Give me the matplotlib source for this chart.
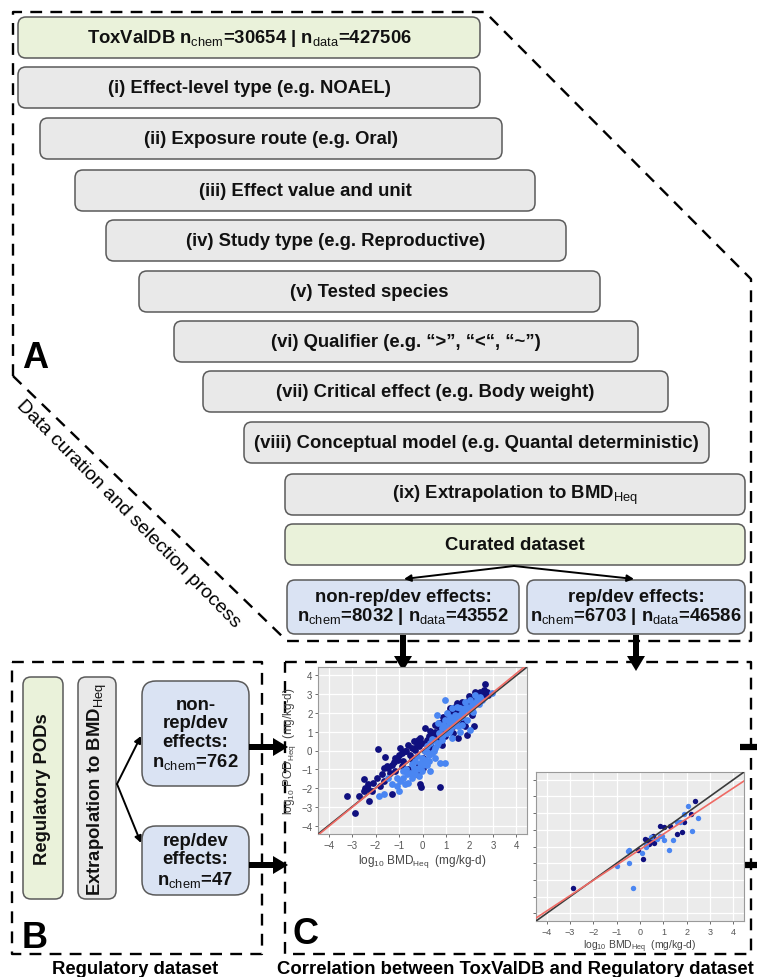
import numpy as np
import matplotlib
matplotlib.use("Agg")
import matplotlib.pyplot as plt
from matplotlib.patches import FancyBboxPatch, FancyArrow

plt.rcParams['font.family'] = ['Liberation Sans', 'DejaVu Sans']
plt.rcParams['mathtext.fontset'] = 'custom'
plt.rcParams['mathtext.rm'] = 'Liberation Sans'
plt.rcParams['mathtext.it'] = 'Liberation Sans:italic'
plt.rcParams['mathtext.bf'] = 'Liberation Sans:bold'

# ---- text of the flow chart ----
step_labels = [
    r'ToxValDB n$_{\mathrm{chem}}$=30654 | n$_{\mathrm{data}}$=427506',
    '(i) Effect-level type (e.g. NOAEL)',
    '(ii) Exposure route (e.g. Oral)',
    '(iii) Effect value and unit',
    '(iv) Study type (e.g. Reproductive)',
    '(v) Tested species',
    '(vi) Qualifier (e.g. \u201c>\u201d, \u201c<\u201c, \u201c~\u201d)',
    '(vii) Critical effect (e.g. Body weight)',
    '(viii) Conceptual model (e.g. Quantal deterministic)',
    r'(ix) Extrapolation to BMD$_{\mathrm{Heq}}$',
    'Curated dataset',
]
split_labels = [
    'non-rep/dev effects:\n' + r'n$_{\mathrm{chem}}$=8032 | n$_{\mathrm{data}}$=43552',
    'rep/dev effects:\n' + r'n$_{\mathrm{chem}}$=6703 | n$_{\mathrm{data}}$=46586',
]
reg_labels = ['Regulatory PODs', r'Extrapolation to BMD$_{\mathrm{Heq}}$']
reg_split_labels = ['non-\nrep/dev\neffects:\n' + r'n$_{\mathrm{chem}}$=762',
                    'rep/dev\neffects:\n' + r'n$_{\mathrm{chem}}$=47']
panel_titles = ['Regulatory dataset', 'Correlation between ToxValDB and Regulatory dataset']
side_text = 'Data curation and selection process'
ticks = [-4, -3, -2, -1, 0, 1, 2, 3, 4]

# ---- scatter 1: non-rep/dev, log10 BMDHeq vs log10 PODHeq ----
nonrep_dark = np.array([
    (-3.22, -2.41), (-2.89, -3.35), (-2.72, -2.41), (-2.27, -2.68), (-2.51, -1.54),
    (-2.44, -1.98), (-2.30, -1.80), (-2.09, -1.71), (-1.94, -1.45), (-1.90, 0.10),
    (-1.73, -1.27), (-1.66, -0.92), (-1.59, -0.36), (-1.52, -0.83), (-1.45, -0.92),
    (-1.30, -0.75), (-1.28, -2.33), (-1.16, -0.39), (-1.02, -0.22), (-0.95, 0.13),
    (-0.88, -0.13), (-0.81, -0.57), (-0.74, -0.04), (-0.60, 0.31), (-0.52, -0.22),
    (-0.45, 0.13), (-0.38, 0.49), (-0.31, 0.05), (-0.24, 0.31), (-0.17, 0.22),
    (-0.10, -1.80), (-0.10, 0.66), (-0.03, 0.40), (0.04, -0.92), (0.11, 1.19),
    (0.18, 0.57), (0.26, 0.75), (0.33, 0.40), (0.40, 0.92), (0.47, 0.66),
    (0.54, 1.01), (0.61, 0.84), (0.68, 1.28), (0.75, 1.10), (0.82, 1.54),
    (0.89, 1.01), (0.96, 0.75), (1.04, 1.36), (1.11, 1.72), (1.18, 1.45),
    (1.25, 1.89), (1.32, 1.28), (1.39, 2.07), (1.46, 1.72), (1.53, 0.66),
    (1.60, 2.15), (1.67, 1.89), (1.74, 2.33), (1.82, 1.28), (1.89, 2.42),
    (1.96, 2.24), (2.03, 2.59), (2.10, 2.68), (2.17, 2.42), (2.24, 2.86),
    (2.31, 2.59), (2.38, 2.95), (2.45, 2.77), (2.52, 3.03), (2.60, 2.86),
    (2.67, 3.56), (2.74, 3.12), (2.81, 2.95), (0.75, -1.94), (-0.60, -1.00),
    (-0.24, -1.27), (0.26, 0.14), (0.54, 1.36), (0.96, 1.19), (1.32, 1.89),
    (1.60, 1.45), (-0.45, -0.47), (-0.88, -0.83), (-1.16, -1.10), (-1.38, -1.18),
    (-2.16, -2.15), (-1.80, -1.89), (-1.66, -1.62), (-2.51, -2.15), (-2.33, -2.06),
    (0.11, -0.04), (0.40, 0.14), (0.68, 0.57), (0.89, 1.80), (1.18, 2.24),
    (1.46, 2.51), (1.67, 2.59), (1.96, 2.68), (2.24, 3.12), (2.45, 3.12),
    (1.32, 0.92), (1.74, 1.63), (2.10, 1.89), (1.89, 0.84), (1.11, 2.07),
    (0.82, 0.31), (-0.17, -0.75), (0.04, -0.39), (2.20, 1.30), (-0.08, -1.97),
    (-1.20, -0.60), (-0.70, 0.00), (-0.20, 0.55), (0.30, 1.05), (0.70, 1.45),
    (1.00, 1.60), (1.40, 2.30), (2.00, 2.90), (2.60, 3.25), (-1.05, -0.50),
])
nonrep_light = np.array([
    (-1.87, -2.41), (-1.66, -2.33), (-1.09, -1.89), (-0.95, -1.62), (-0.81, -1.45),
    (-0.67, -1.27), (-0.52, -1.18), (-0.38, -0.92), (-0.31, -0.57), (-0.17, -0.92),
    (-0.10, -0.66), (-0.03, -0.39), (0.11, -0.48), (0.18, -0.75), (0.26, -0.22),
    (0.33, -1.10), (0.40, -0.13), (0.47, -0.04), (0.54, 0.14), (0.61, 0.31),
    (0.68, 0.40), (0.75, -0.66), (0.82, 0.57), (0.89, 0.84), (0.96, -0.66),
    (1.04, 0.92), (1.11, 1.01), (1.18, 1.10), (1.25, 1.28), (1.32, 1.45),
    (1.39, 1.36), (1.46, 1.63), (1.53, 1.72), (1.60, 1.89), (1.67, 1.80),
    (1.74, 2.07), (1.82, 2.24), (1.89, 2.33), (1.96, 2.15), (2.03, 1.10),
    (2.10, 2.42), (2.17, 2.07), (2.24, 2.51), (2.31, 2.68), (2.38, 2.77),
    (2.45, 2.86), (2.52, 2.68), (0.96, 2.68), (0.61, 1.89), (0.68, 1.45),
    (0.82, 1.19), (0.18, 0.23), (0.04, -0.75), (-0.31, -1.10), (-0.45, -1.45),
    (-0.60, -1.71), (-0.74, -1.80), (-1.02, -2.15), (-0.24, -0.30), (0.33, 0.40),
    (0.47, 0.57), (1.11, 1.54), (1.60, 2.24), (1.82, 2.59), (2.03, 2.68),
    (2.24, 2.95), (2.95, 3.09), (-1.45, -1.45), (-1.30, -1.80), (-1.09, -1.45),
    (-0.85, -1.10), (0.96, 1.63), (1.18, 1.80), (1.39, 1.89), (1.67, 1.36),
    (1.89, 1.63), (0.54, -0.39), (0.26, -0.57), (-0.03, -1.10), (-0.17, -1.36),
    (0.75, 0.84), (0.89, 1.36), (1.04, 1.98), (1.25, 2.24), (1.46, 2.33),
    (1.25, 0.66), (1.60, 1.01), (-0.31, -1.27), (0.40, 0.60), (0.70, 0.95),
    (1.00, 1.25), (1.35, 1.65), (1.70, 2.00), (2.10, 2.25), (0.10, 0.00),
    (-0.45, -0.70), (-0.70, -1.00), (0.20, -0.10), (2.40, 2.50), (1.50, 1.30),
])
nonrep_fit = (1.02, 0.03)  # slope, intercept of red line

# ---- scatter 2: rep/dev ----
rep_dark = np.array([
    (-2.86, -2.46), (-0.07, -0.20), (0.13, -0.76), (0.20, 0.44), (0.28, 0.38),
    (0.34, 0.24), (0.38, 0.14), (0.56, 0.64), (0.59, 0.20), (0.87, 1.24),
    (1.04, 1.14), (1.30, 1.24), (1.58, 0.74), (1.79, 0.88), (1.89, 1.48),
    (2.20, 1.94), (2.34, 2.70), (0.45, 0.34),
])
rep_light = np.array([
    (-1.00, -1.16), (-0.51, -0.26), (-0.47, -0.20), (-0.49, -1.00), (-0.31, -2.46),
    (0.07, -0.40), (0.24, 0.08), (0.94, 0.64), (1.02, 0.40), (1.23, -0.20),
    (1.41, 0.40), (1.58, 1.44), (1.72, 1.44), (1.89, 1.94), (2.07, 2.44),
    (2.24, 0.94), (2.47, 1.70), (0.87, 0.64), (0.73, 0.44), (0.48, 0.54),
    (0.24, 0.00),
])
rep_fit = (0.92, -0.18)

fig = plt.figure(figsize=(7.57, 9.78), dpi=100)
bg = fig.add_axes([0, 0, 1, 1])
bg.set_xlim(0, 757)
bg.set_ylim(978, 0)
bg.axis('off')

GREEN = '#eaf2da'
GREY = '#e9e9e9'
BLUE = '#dae3f3'
EDGE = '#5a5a5a'
FS = 13.3


def box(x0, y0, x1, y1, fc, text, rot=0, ls=1.0, r=8):
    bg.add_patch(FancyBboxPatch((x0, y0), x1 - x0, y1 - y0,
                                boxstyle='round,pad=0,rounding_size=%d' % r,
                                fc=fc, ec=EDGE, lw=1.1))
    bg.text((x0 + x1) / 2, (y0 + y1) / 2, text, ha='center', va='center',
            fontsize=FS, fontweight='bold', rotation=rot, linespacing=ls,
            color='#111111')


def dashed(xs, ys):
    bg.plot(xs, ys, color='k', lw=1.7, ls=(0, (5, 3.5)), solid_capstyle='butt')


def big_arrow(x0, y0, x1, y1):
    bg.add_patch(FancyArrow(x0, y0, x1 - x0, y1 - y0, width=6, head_width=18,
                            head_length=15, length_includes_head=True,
                            color='k', lw=0))


def thin_arrow(x0, y0, x1, y1):
    bg.annotate('', xy=(x1, y1), xytext=(x0, y0),
                arrowprops=dict(arrowstyle='-|>', lw=1.4, color='k',
                                mutation_scale=10, shrinkA=0, shrinkB=0))


# panel A
dashed([13, 13, 485, 751, 751, 287, 13], [377, 13, 13, 280, 642, 642, 377])
step_left = [18, 18, 40, 75, 106, 139, 174, 203, 244, 285, 285]
step_right = [480, 480, 502, 535, 566, 600, 638, 668, 709, 745, 745]
step_top = [18, 68, 119, 171, 221, 272, 322, 372, 423, 475, 525]
for i, lab in enumerate(step_labels):
    fc = GREEN if i in (0, len(step_labels) - 1) else GREY
    box(step_left[i], step_top[i], step_right[i], step_top[i] + 41, fc, lab)

box(287, 581, 519, 635, BLUE, split_labels[0], ls=0.95)
box(527, 581, 745, 635, BLUE, split_labels[1], ls=0.95)
thin_arrow(514, 567, 404, 580)
thin_arrow(514, 567, 634, 580)

bg.text(22, 358, 'A', fontsize=26, fontweight='bold', va='center')
bg.text(128, 514, side_text, fontsize=14, rotation=-45.5,
        ha='center', va='center', rotation_mode='anchor')

big_arrow(403, 636, 403, 672)
big_arrow(636, 636, 636, 672)

# panel B
dashed([12, 262, 262, 12, 12], [663, 663, 955, 955, 663])
box(23, 678, 63, 900, GREEN, reg_labels[0], rot=90)
box(78, 678, 116, 900, GREY, reg_labels[1], rot=90)
box(142, 682, 249, 787, BLUE, reg_split_labels[0], ls=1.12, r=14)
box(142, 827, 249, 896, BLUE, reg_split_labels[1], ls=1.12, r=14)
thin_arrow(117, 785, 141, 737)
thin_arrow(117, 785, 141, 844)
big_arrow(249, 748, 288, 748)
big_arrow(249, 866, 288, 866)
bg.text(22, 938, 'B', fontsize=26, fontweight='bold', va='center')
bg.text(135, 969, panel_titles[0], fontsize=FS, fontweight='bold',
        ha='center', va='center')

# panel C
dashed([285, 751, 751, 285, 285], [663, 663, 955, 955, 663])
for yy in (748, 866):
    bg.plot([740, 757], [yy, yy], color='k', lw=4.5, solid_capstyle='butt')
bg.text(293, 935, 'C', fontsize=26, fontweight='bold', va='center')
bg.text(515, 969, panel_titles[1], fontsize=FS, fontweight='bold',
        ha='center', va='center')


def scatter_panel(rect, dark, light, fit, ms, fs_tick, fs_lab, ylab):
    ax = fig.add_axes(rect)
    ax.set_facecolor('#ebebeb')
    ax.set_xlim(-4.45, 4.45)
    ax.set_ylim(-4.45, 4.45)
    ax.set_xticks(ticks)
    ax.set_yticks(ticks)
    ax.grid(color='white', lw=0.9)
    ax.set_axisbelow(True)
    for s in ax.spines.values():
        s.set_color('#9a9a9a')
        s.set_linewidth(0.8)
    ax.tick_params(colors='#555555', labelsize=fs_tick, length=2.5, width=0.6, pad=1.5)
    ax.scatter(dark[:, 0], dark[:, 1], s=ms, color='#10107f', lw=0, zorder=3)
    ax.scatter(light[:, 0], light[:, 1], s=ms, color='#4a86f2', lw=0, zorder=3)
    ax.axline((0, 0), slope=1, color='#3a3a3a', lw=1.2, zorder=4)
    ax.axline((0, fit[1]), slope=fit[0], color='#ef6a64', lw=1.2, zorder=5)
    ax.set_xlabel(r'log$_{\mathrm{10}}$ BMD$_{\mathrm{Heq}}$  (mg/kg-d)',
                  fontsize=fs_lab, color='#444444', labelpad=1.5)
    if ylab:
        ax.set_ylabel(r'log$_{\mathrm{10}}$ POD$_{\mathrm{Heq}}$  (mg/kg-d)',
                      fontsize=fs_lab, color='#444444', labelpad=2.5)
    else:
        ax.set_yticklabels([])
    return ax


scatter_panel([318 / 757, 1 - 835 / 978, 209 / 757, 167 / 978],
              nonrep_dark, nonrep_light, nonrep_fit, 24, 7, 8.5, True)
scatter_panel([536 / 757, 1 - 922 / 978, 208 / 757, 149 / 978],
              rep_dark, rep_light, rep_fit, 15, 6.5, 7.5, False)

fig.savefig('out.png', dpi=100)
